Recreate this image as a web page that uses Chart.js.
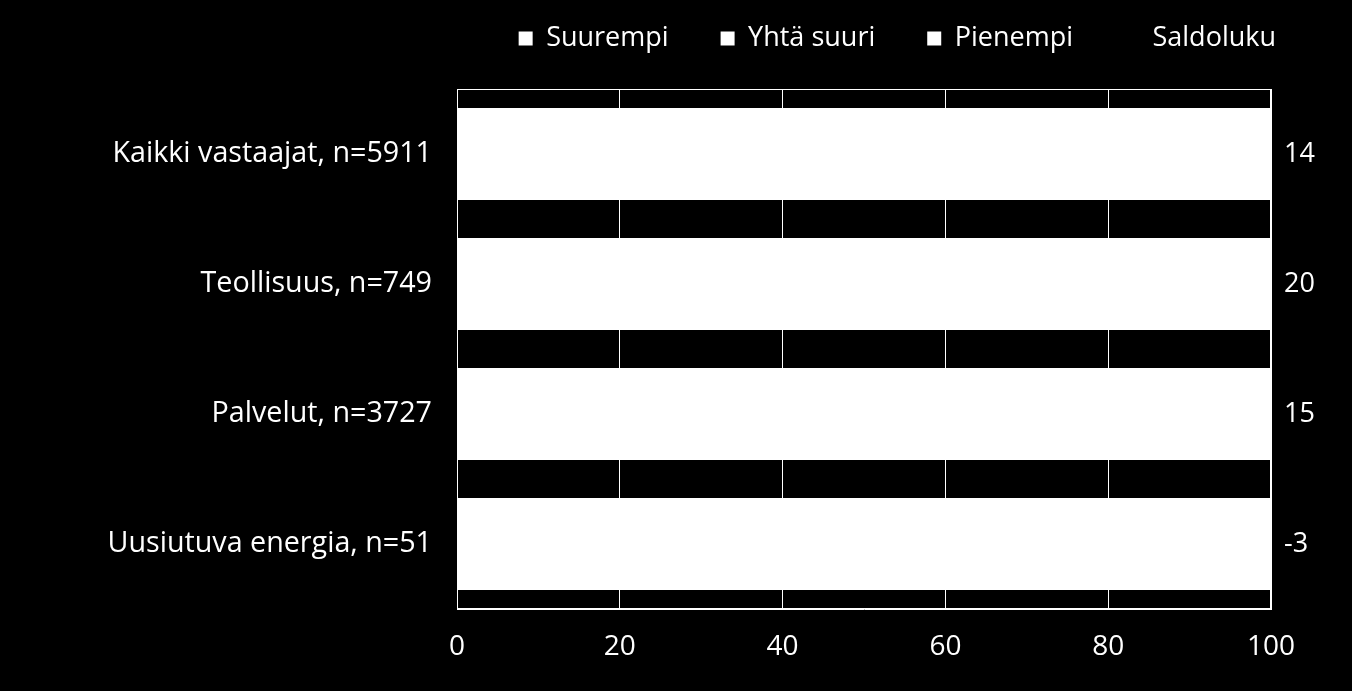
<!DOCTYPE html>
<html lang="fi">
<head>
<meta charset="utf-8">
<title>Saldoluku</title>
<script src="https://cdn.jsdelivr.net/npm/chart.js@4"></script>
<style>
  html, body { margin: 0; padding: 0; background: #000; }
  .wrap { width: 1352px; height: 691px; position: relative; }
</style>
</head>
<body>
<div class="wrap"><canvas id="myChart"></canvas></div>
<script>
  const categories = ['Kaikki vastaajat, n=5911', 'Teollisuus, n=749', 'Palvelut, n=3727', 'Uusiutuva energia, n=51'];
  const suurempi = [31, 35, 31, 22];
  const yhtaSuuri = [52, 50, 53, 53];
  const pienempi = [17, 15, 16, 25];
  const saldoluku = [14, 20, 15, -3];

  const fontFamily = "'Open Sans', 'DejaVu Sans', sans-serif";

  // all segments are white in the original, so overlap them a bit to hide seams
  const segment = { backgroundColor: '#FFFFFF', borderWidth: 0, inflateAmount: 1 };

  const data = {
    labels: categories,
    datasets: [
      { label: 'Suurempi', data: suurempi, ...segment },
      { label: 'Yhtä suuri', data: yhtaSuuri, ...segment },
      { label: 'Pienempi', data: pienempi, ...segment }
    ]
  };

  // legend sits above the plot, fixed height so the plot starts where it should
  const legendSpace = {
    id: 'legendSpace',
    beforeInit(chart) {
      const fitValue = chart.legend.fit;
      chart.legend.fit = function fit() {
        fitValue.bind(chart.legend)();
        this.height = 116;
      };
    }
  };

  // white frame round the plot area
  const plotFrame = {
    id: 'plotFrame',
    afterDatasetsDraw(chart) {
      const { ctx, chartArea } = chart;
      ctx.save();
      ctx.strokeStyle = '#FFFFFF';
      ctx.lineWidth = 1;
      ctx.strokeRect(chartArea.left + 0.5, chartArea.top + 0.5, chartArea.width - 1, chartArea.height - 1);
      ctx.restore();
    }
  };

  const config = {
    type: 'bar',
    data,
    options: {
      indexAxis: 'y',
      responsive: true,
      maintainAspectRatio: false,
      animation: false,
      layout: {
        padding: { top: -27, right: 24, bottom: 0, left: 0 }
      },
      datasets: {
        bar: { barPercentage: 0.692, categoryPercentage: 1 }
      },
      scales: {
        x: {
          stacked: true,
          min: 0,
          max: 100,
          ticks: {
            stepSize: 20,
            color: '#FFFFFF',
            font: { family: fontFamily, size: 28 },
            padding: 21
          },
          grid: { color: '#FFFFFF', lineWidth: 1, drawTicks: false },
          border: { color: '#FFFFFF' },
          afterFit(scale) { scale.height = 82; }
        },
        y: {
          stacked: true,
          ticks: {
            color: '#FFFFFF',
            font: { family: fontFamily, size: 28.7 },
            padding: 17
          },
          grid: { display: false },
          border: { color: '#FFFFFF' },
          afterFit(scale) { scale.width = 457; }
        },
        y2: {
          type: 'category',
          position: 'right',
          labels: saldoluku.map(String),
          offset: true,
          ticks: {
            color: '#FFFFFF',
            font: { family: fontFamily, size: 27 },
            padding: 5
          },
          grid: { display: false },
          border: { display: false },
          afterFit(scale) { scale.width = 57; }
        }
      },
      plugins: {
        legend: {
          position: 'top',
          align: 'end',
          labels: {
            color: '#FFFFFF',
            font: { family: fontFamily, size: 27 },
            boxWidth: 14,
            boxHeight: 14,
            padding: 52,
            generateLabels(chart) {
              const items = Chart.defaults.plugins.legend.labels.generateLabels(chart);
              items.push({
                text: 'Saldoluku',
                fillStyle: 'rgba(0,0,0,0)',
                strokeStyle: 'rgba(0,0,0,0)',
                lineWidth: 0,
                fontColor: '#FFFFFF',
                hidden: false,
                datasetIndex: -1
              });
              return items;
            }
          }
        },
        tooltip: { enabled: false }
      }
    },
    plugins: [legendSpace, plotFrame]
  };

  const myChart = new Chart(
    document.getElementById('myChart'),
    config
  );
</script>
</body>
</html>
